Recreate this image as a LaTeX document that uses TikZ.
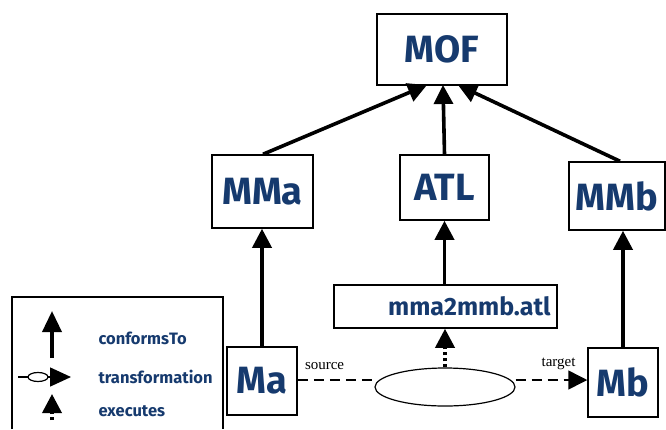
\documentclass[tikz,border=0pt]{standalone}
\usepackage{fontspec}
\usepackage{tikz}
\usetikzlibrary{arrows.meta}
\usetikzlibrary{shapes}
\newfontfamily\boxfont{Fira Sans}
\newfontfamily\rolefont{Liberation Serif}
\definecolor{ink}{RGB}{22,58,110}

\tikzset{
  model/.style={draw, line width=1.5pt, rectangle, inner sep=0pt, text=ink,
    font=\boxfont\bfseries\fontsize{38}{40}\selectfont},
  conforms/.style={line width=3.6pt, -{Triangle[width=19pt,length=19pt]}},
  transf/.style={line width=1.5pt, dash pattern=on 10pt off 6pt},
  execs/.style={line width=3.6pt, dash pattern=on 3pt off 3pt,
    -{Triangle[width=19pt,length=19pt]}},
  legendtext/.style={text=ink, anchor=west, font=\boxfont\bfseries\fontsize{16.5}{18}\selectfont},
  role/.style={font=\rolefont\fontsize{15}{17}\selectfont}
}

\begin{document}
\begin{tikzpicture}[x=1pt, y=-1pt]
  \useasboundingbox (0,0) rectangle (666,429);

  % metametamodel and metamodels
  \node[model, minimum width=130pt, minimum height=71pt] (mof) at (442,49.5) {MOF};
  \node[model, minimum width=101pt, minimum height=73pt] (mma) at (262.5,191.5) {MMa};
  \node[model, minimum width=89pt, minimum height=65pt] (atl) at (444.5,187.5) {ATL};
  \node[model, minimum width=96pt, minimum height=68pt] (mmb) at (617,196) {MMb};

  % models
  \node[model, minimum width=223pt, minimum height=43pt, text width=210pt, align=right,
        font=\boxfont\bfseries\fontsize{25}{27}\selectfont] (prog) at (445.5,306.5) {mma2mmb.atl};
  \node[model, minimum width=70pt, minimum height=68pt, font=\boxfont\bfseries\fontsize{38}{40}\selectfont] (ma) at (262,381) {Ma};
  \node[model, minimum width=70pt, minimum height=69pt, font=\boxfont\bfseries\fontsize{38}{40}\selectfont] (mb) at (623,382.5) {Mb};
  \node[draw, line width=1.2pt, ellipse, minimum width=140pt, minimum height=38pt] (run) at (445,387) {};

  \coordinate (mofa) at (427,85);
  \coordinate (mofb) at (443,85);
  \coordinate (mofc) at (458,85);
  \draw[conforms] (mma.north -| 263,0) -- (mofa);
  \draw[conforms] (atl.north) -- (mofb);
  \draw[conforms] (mmb.north -| 620,0) -- (mofc);
  \draw[conforms] (ma.north) -- (ma.north |- mma.south);
  \draw[conforms] (prog.north -| atl.south) -- (atl.south);
  \draw[conforms] (mb.north) -- (mb.north |- mmb.south);

  \draw[transf] (ma.east |- 0,380) -- (run.west |- 0,380)
    node[role, pos=0.35, above=6pt] {source};
  \draw[transf, -{Triangle[width=19pt,length=19pt]}] (run.east |- 0,380) -- (mb.west |- 0,380)
    node[role, pos=0.6, above=6pt] {target};
  \draw[execs] (run.north) -- (prog.south -| run.north);

  % legend
  \draw[line width=1.5pt] (12,429) -- (12,297) -- (223,297) -- (223,429);
  \coordinate (lga) at (52,358);
  \coordinate (lgb) at (52,311);
  \coordinate (lgc) at (18,377);
  \coordinate (lgd) at (71,377);
  \coordinate (lge) at (52,420);
  \coordinate (lgf) at (52,394);
  \draw[line width=3.6pt, -{Triangle[width=19pt,length=21pt]}] (lga) -- (lgb);
  \draw[line width=1.5pt, -{Triangle[width=19pt,length=21pt]}] (lgc) -- (lgd);
  \node[draw, line width=1.2pt, fill=white, ellipse, minimum width=20pt, minimum height=9pt, inner sep=0pt] (lgo) at (38,377) {};
  \draw[execs, -{Triangle[width=19pt,length=19pt]}] (lge) -- (lgf);
  \node[legendtext] (lt1) at (95,338) {conformsTo};
  \node[legendtext] (lt2) at (95,377) {transformation};
  \node[legendtext] (lt3) at (95,411) {executes};
\end{tikzpicture}
\end{document}
